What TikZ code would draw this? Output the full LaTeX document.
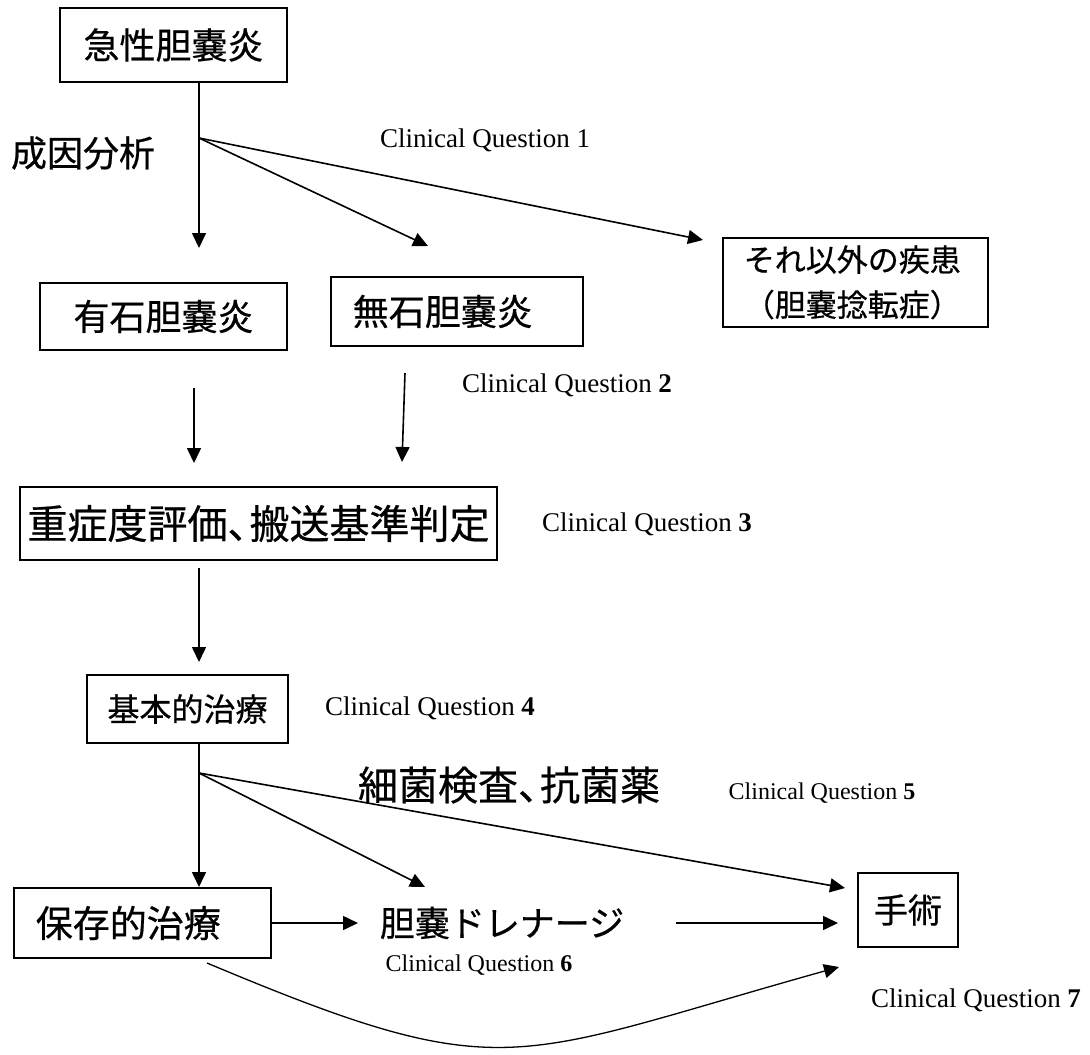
\documentclass[tikz,border=0pt]{standalone}
\usepackage{fontspec}
\setmainfont{Liberation Serif}
\newfontfamily\jp[FakeBold=0.6]{Noto Sans CJK JP}
\usetikzlibrary{arrows.meta}
\newcommand\jfs[1]{\fontsize{#1}{#1}\selectfont}
\newcommand\tenten{、\hspace{-0.45em}}
\begin{document}
\begin{tikzpicture}[x=1pt,y=-1pt,line width=1.6pt,
  arr/.style={-{Triangle[length=15pt,width=14pt]}},
  box/.style={draw,line width=1.6pt,inner sep=0pt},
  jtext/.style={inner sep=0pt},
  cq/.style={inner sep=0pt,font=\fontsize{27}{30}\selectfont},
  cqs/.style={inner sep=0pt,font=\fontsize{24}{27}\selectfont}]
\path[use as bounding box] (0,0) rectangle (1090,1055);

% boxes
\node[box,minimum width=227pt,minimum height=74pt,font=\jp\jfs{36}] (A) at (173.5,45) {急性胆嚢炎};
\node[box,minimum width=247pt,minimum height=67pt,font=\jp\jfs{36}] (B) at (163.5,316.5) {有石胆嚢炎};
\node[box,anchor=west,minimum height=69pt,text width=208pt,inner xsep=22pt,align=left,font=\jp\jfs{36}] (C) at (330,311.5) {無石胆嚢炎};
\node[box,anchor=north west,minimum height=89pt,text width=223pt,inner xsep=21pt,align=left,font=\jp\fontsize{31}{45}\selectfont] (D) at (722,237) {それ以外の疾患\\（胆嚢捻転症）};
\node[box,minimum width=477pt,minimum height=73pt,font=\jp\jfs{40}] (E) at (258.5,523.5) {重症度評価\tenten 搬送基準判定};
\node[box,minimum width=201pt,minimum height=68pt,font=\jp\jfs{32}] (F) at (187.5,709) {基本的治療};
\node[box,anchor=west,minimum height=70pt,text width=213pt,inner xsep=22pt,align=left,font=\jp\jfs{37}] (G) at (13,923) {保存的治療};
\node[box,minimum width=100pt,minimum height=74pt,font=\jp\jfs{34}] (H) at (908,910) {手術};

% plain texts
\node[jtext,font=\jp\jfs{36}] (L1) at (83,153) {成因分析};
\node[jtext,font=\jp\jfs{40}] (L2) at (509,785) {細菌検査\tenten 抗菌薬};
\node[jtext,font=\jp\jfs{35}] (Dr) at (502,923) {胆嚢ドレナージ};

\node[cq] (Q1) at (485,140) {Clinical Question 1};
\node[cq] (Q2) at (567,385) {Clinical Question \textbf{2}};
\node[cq] (Q3) at (647,524) {Clinical Question \textbf{3}};
\node[cq] (Q4) at (430,708) {Clinical Question \textbf{4}};
\node[cqs] (Q5) at (822,793) {Clinical Question \textbf{5}};
\node[cqs] (Q6) at (479,965) {Clinical Question \textbf{6}};
\node[cq] (Q7) at (976,1000) {Clinical Question \textbf{7}};

% connector points
\coordinate (b1) at (199,138);
\coordinate (t1) at (199,248);
\coordinate (t2) at (428,246);
\coordinate (t3) at (703,240);
\coordinate (s4) at (194,388);
\coordinate (t4) at (194,463);
\coordinate (s5) at (405,373);
\coordinate (t5) at (402,462);
\coordinate (s6) at (199,568);
\coordinate (t6) at (199,662);
\coordinate (b2) at (199,773);
\coordinate (t7) at (199,887);
\coordinate (t8) at (425,887);
\coordinate (t9) at (845,888);
\coordinate (t10) at (358,923);
\coordinate (s11) at (676,923);
\coordinate (t11) at (838,923);
\coordinate (s12) at (207,963);
\coordinate (t12) at (839,967);

% connectors
\draw[arr] (A.south -| t1) -- (t1);
\draw[arr] (b1) -- (t2);
\draw[arr] (b1) -- (t3);
\draw[arr] (s4) -- (t4);
\draw[arr] (s5) -- (t5);
\draw[arr] (s6) -- (t6);
\draw[arr] (F.south -| t7) -- (t7);
\draw[arr] (b2) -- (t8);
\draw[arr] (b2) -- (t9);
\draw[arr] (G.east) -- (t10);
\draw[arr] (s11) -- (t11);
\draw[arr,line width=1.3pt] (s12) .. controls (507,1089) and (509,1059) .. (t12);
\end{tikzpicture}
\end{document}
